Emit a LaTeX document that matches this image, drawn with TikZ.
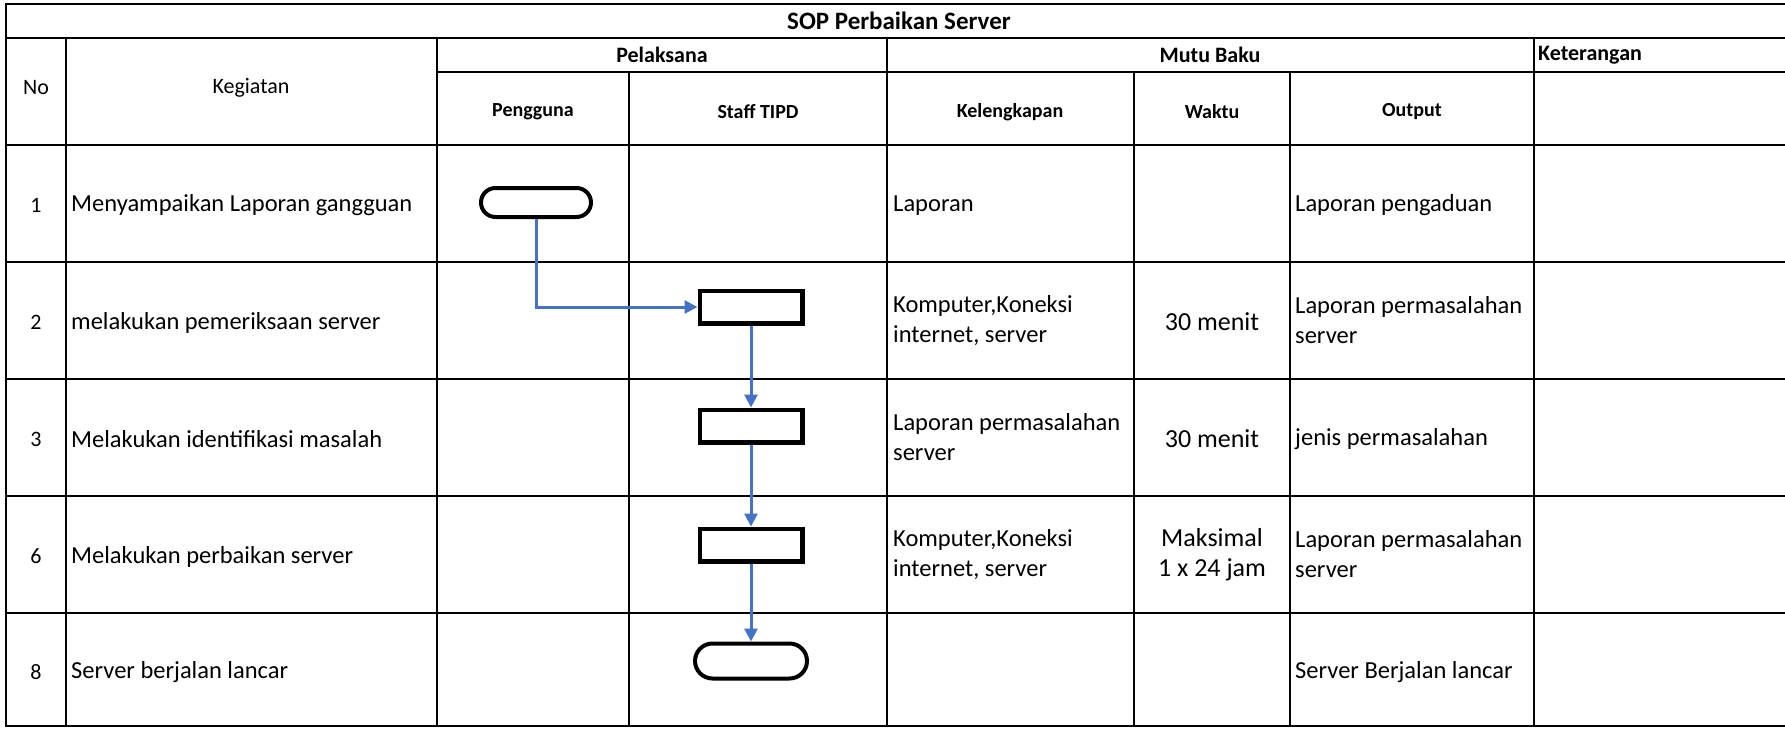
\documentclass[tikz,border=0pt]{standalone}
\usepackage{fontspec}
\setmainfont{Carlito}
\usepackage{tikz}
\usetikzlibrary{arrows.meta,shapes,positioning}

\definecolor{flowblue}{RGB}{68,114,196}

\begin{document}
\begin{tikzpicture}[x=1pt, y=-1pt, every node/.style={inner sep=0pt}]
                \tikzstyle{grid} = [line width=2pt, line cap=rect]
                \tikzstyle{title} = [font=\bfseries\fontsize{25}{29}\selectfont]
                \tikzstyle{head} = [font=\bfseries\fontsize{22}{26}\selectfont]
                \tikzstyle{subhead} = [font=\bfseries\fontsize{20}{24}\selectfont]
                \tikzstyle{plainhead} = [font=\fontsize{22}{26}\selectfont]
                \tikzstyle{cell} = [anchor=west, align=left, font=\fontsize{24.5}{30}\selectfont]
                \tikzstyle{num} = [font=\fontsize{22}{30}\selectfont]
                \tikzstyle{time} = [align=center, font=\fontsize{26}{30}\selectfont]
                \tikzstyle{process} = [rectangle, draw, line width=4.5pt,
                minimum width=102.5pt, minimum height=32.5pt]
                \tikzstyle{terminal} = [rounded rectangle, draw, line width=4pt]
                \tikzstyle{arrow} = [line width=3pt, flowblue,
                -{Triangle[length=13pt,width=13pt]}]

                \useasboundingbox (0,0) rectangle (1785,728);

                % table grid
                \draw[grid] (6,4) -- (1785,4);
                \draw[grid] (6,37.7) -- (1785,37.7);
                \draw[grid] (437,72) -- (1785,72);
                \foreach \y in {145,262,379,496,613,726}
                \draw[grid] (6,\y) -- (1785,\y);
                \draw[grid] (6,4) -- (6,726);
                \foreach \x in {66,437,887,1534}
                \draw[grid] (\x,37.7) -- (\x,726);
                \foreach \x in {629,1134,1290}
                \draw[grid] (\x,72) -- (\x,726);

                % headers
                \node [title] (judul) at (899,21) {SOP Perbaikan Server};
                \node [plainhead] (no) at (36,88) {No};
                \node [plainhead] (kegiatan) at (251,88) {Kegiatan};
                \node [head] (pelaksana) at (662,55) {Pelaksana};
                \node [head] (mutu) at (1210,55) {Mutu Baku};
                \node [head, anchor=west] (keterangan) at (1538,55) {Keterangan};
                \node [subhead] (pengguna) at (533,112) {Pengguna};
                \node [subhead] (staff) at (758,112) {Staff TIPD};
                \node [subhead] (lengkap) at (1010,112) {Kelengkapan};
                \node [subhead] (waktu) at (1212,112) {Waktu};
                \node [subhead] (output) at (1412,112) {Output};

                % rows
                \node [num] (n1) at (36,205.5) {1};
                \node [num] (n2) at (36,322.5) {2};
                \node [num] (n3) at (36,439.5) {3};
                \node [num] (n6) at (36,556.5) {6};
                \node [num] (n8) at (36,672) {8};

                \node [cell] (k1) at (71,205.5) {Menyampaikan Laporan gangguan};
                \node [cell] (k2) at (71,322.5) {melakukan pemeriksaan server};
                \node [cell] (k3) at (71,439.5) {Melakukan identifikasi masalah};
                \node [cell] (k6) at (71,556.5) {Melakukan perbaikan server};
                \node [cell] (k8) at (71,672) {Server berjalan lancar};

                \node [cell] (l1) at (893,205.5) {Laporan};
                \node [cell] (l2) at (893,320.5) {Komputer,Koneksi\\internet, server};
                \node [cell] (l3) at (893,437.5) {Laporan permasalahan\\server};
                \node [cell] (l6) at (893,554.5) {Komputer,Koneksi\\internet, server};

                \node [time] (w2) at (1212,321.5) {30 menit};
                \node [time] (w3) at (1212,438.5) {30 menit};
                \node [time] (w6) at (1212,554.5) {Maksimal\\1 x 24 jam};

                \node [cell] (o1) at (1295,205.5) {Laporan pengaduan};
                \node [cell] (o2) at (1295,320.5) {Laporan permasalahan\\server};
                \node [cell] (o3) at (1295,439.5) {jenis permasalahan};
                \node [cell] (o6) at (1295,554.5) {Laporan permasalahan\\server};
                \node [cell] (o8) at (1295,672) {Server Berjalan lancar};

                % flow
                \node [terminal, minimum width=110pt, minimum height=29pt] (lapor) at (536,202.5) {};
                \node [process] (periksa) at (751,307) {};
                \node [process, below=82pt of periksa] (identifikasi) {};
                \node [process, below=82pt of identifikasi] (perbaikan) {};
                \node [terminal, minimum width=112pt, minimum height=35pt, below=78pt of perbaikan] (selesai) {};

                \draw [arrow] (lapor.south) |- (periksa.west);
                \draw [arrow] (periksa) -- (identifikasi);
                \draw [arrow] (identifikasi) -- (perbaikan);
                \draw [arrow] (perbaikan) -- (selesai);
            \end{tikzpicture}
\end{document}
